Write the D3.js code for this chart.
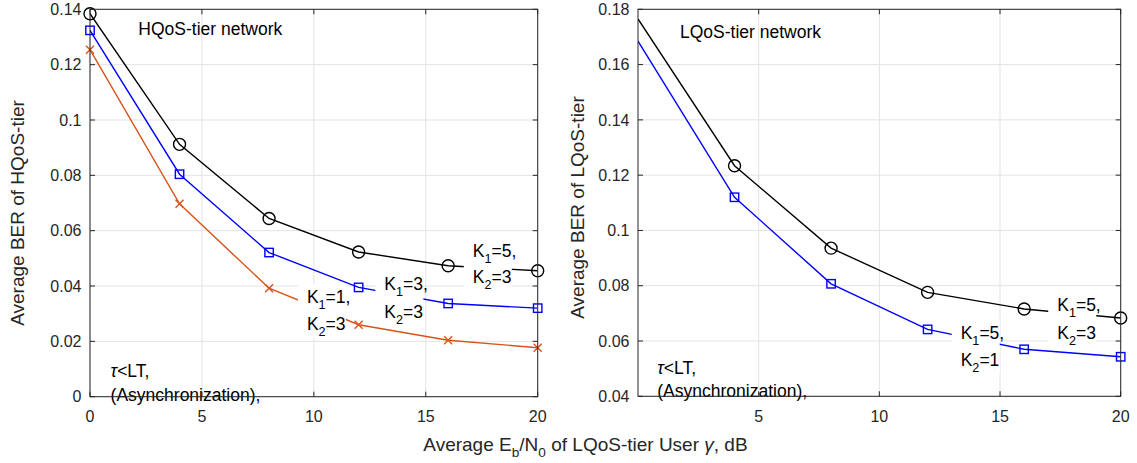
<!DOCTYPE html>
<html><head><meta charset="utf-8">
<script src="https://cdn.jsdelivr.net/npm/d3@7"></script>
<style>
body{margin:0;background:#fff}
svg{display:block}
text{font-family:"Liberation Sans",Arial,Helvetica,sans-serif}
</style>
</head><body>
<svg id="chart" width="1137" height="463"></svg>
<script>
// ---------- data ----------
const snrDb = [0, 4, 8, 12, 16, 20];
const hqosK15K23 = [0.1384, 0.0912, 0.0644, 0.0523, 0.0473, 0.0455];
const hqosK13K23 = [0.1324, 0.0804, 0.0521, 0.0395, 0.0337, 0.0320];
const hqosK11K23 = [0.1254, 0.0697, 0.0392, 0.0260, 0.0204, 0.0177];
const lqosK15K23 = [0.1765, 0.1234, 0.0936, 0.0776, 0.0716, 0.0683];
const lqosK15K21 = [0.1685, 0.1120, 0.0807, 0.0642, 0.0570, 0.0543];

const xTicksLeft = [0, 5, 10, 15, 20];
const xTicksRight = [5, 10, 15, 20];
const yTicksLeft = [0, 0.02, 0.04, 0.06, 0.08, 0.1, 0.12, 0.14];
const yTickLabelsLeft = ["0", "0.02", "0.04", "0.06", "0.08", "0.1", "0.12", "0.14"];
const yTicksRight = [0.04, 0.06, 0.08, 0.1, 0.12, 0.14, 0.16, 0.18];
const yTickLabelsRight = ["0.04", "0.06", "0.08", "0.1", "0.12", "0.14", "0.16", "0.18"];

const yLabelLeft = "Average BER of HQoS-tier";
const yLabelRight = "Average BER of LQoS-tier";
const titleLeft = "HQoS-tier network";
const titleRight = "LQoS-tier network";

// ---------- styles ----------
const AXIS = "#262626", GRID = "#e3e3e3";
const BLACK = "#000000", BLUE = "#0000ff", ORANGE = "#d95319";

const svg = d3.select("#chart");

function labelText(g, x, y, parts, size, fill) {
  const t = g.append("text").attr("x", x).attr("y", y)
    .attr("font-size", size).attr("fill", fill || "#000");
  let shifted = 0;
  parts.forEach(p => {
    const ts = t.append("tspan");
    if (p.sub) {
      ts.attr("dy", 6 - shifted).attr("font-size", size * 0.72);
      shifted = 6;
    } else if (shifted) {
      ts.attr("dy", -shifted);
      shifted = 0;
    }
    if (p.it) ts.attr("font-style", "italic");
    ts.text(p.t);
  });
  return t;
}

function drawPanel(cfg) {
  const x = d3.scaleLinear().domain(cfg.xDomain).range(cfg.xRange);
  const y = d3.scaleLinear().domain(cfg.yDomain).range(cfg.yRange);
  const g = svg.append("g");
  const [x0, x1] = cfg.xRange, [y0, y1] = cfg.yRange; // y0 bottom, y1 top

  // grid
  g.append("g").selectAll("line").data(cfg.xTicks).join("line")
    .attr("x1", d => x(d)).attr("x2", d => x(d)).attr("y1", y0).attr("y2", y1)
    .attr("stroke", GRID).attr("stroke-width", 1);
  g.append("g").selectAll("line").data(cfg.yTicks).join("line")
    .attr("y1", d => y(d)).attr("y2", d => y(d)).attr("x1", x0).attr("x2", x1)
    .attr("stroke", GRID).attr("stroke-width", 1);

  // clip
  const clipId = "clip" + cfg.id;
  svg.append("clipPath").attr("id", clipId).append("rect")
    .attr("x", x0).attr("y", y1).attr("width", x1 - x0).attr("height", y0 - y1);

  const line = d3.line().x(d => x(d.x)).y(d => y(d.y));
  cfg.series.forEach(s => {
    const pts = snrDb.map((v, i) => ({x: v, y: s.values[i]}));
    g.append("path").datum(pts).attr("d", line).attr("fill", "none")
      .attr("stroke", s.color).attr("stroke-width", 1.4)
      .attr("clip-path", `url(#${clipId})`);
    const mpts = pts.filter(d => d.x >= s.markerFrom);
    const mg = g.append("g").attr("stroke", s.color).attr("fill", "none").attr("stroke-width", 1.4);
    if (s.marker === "o") {
      mg.selectAll("circle").data(mpts).join("circle")
        .attr("cx", d => x(d.x)).attr("cy", d => y(d.y)).attr("r", 6);
    } else if (s.marker === "s") {
      mg.selectAll("rect").data(mpts).join("rect")
        .attr("x", d => x(d.x) - 4.2).attr("y", d => y(d.y) - 4.2)
        .attr("width", 8.4).attr("height", 8.4);
    } else {
      mg.selectAll("path").data(mpts).join("path")
        .attr("d", d => {
          const cx = x(d.x), cy = y(d.y), r = 4;
          return `M${cx - r},${cy - r}L${cx + r},${cy + r}M${cx - r},${cy + r}L${cx + r},${cy - r}`;
        });
    }
  });

  // annotations (K labels with white background)
  cfg.kLabels.forEach(k => {
    const bx = x(k.at[0]), by = y(k.at[1]);
    g.append("rect").attr("x", bx - 9).attr("y", by - 13)
      .attr("width", 48).attr("height", k.gap + 27).attr("fill", "#fff");
    labelText(g, bx, by + 6, [{t: "K"}, {t: "1", sub: true}, {t: "=" + k.k1 + ","}], 17.5);
    labelText(g, bx, by + k.gap + 6, [{t: "K"}, {t: "2", sub: true}, {t: "=" + k.k2}], 17.5);
  });

  // title and note
  labelText(g, x(cfg.titleAt[0]), y(cfg.titleAt[1]), [{t: cfg.title}], 17.5);
  labelText(g, x(cfg.noteAt[0]), y(cfg.noteAt[1]), [{t: "τ", it: true}, {t: "<LT,"}], 17.5);
  labelText(g, x(cfg.noteAt[0]), y(cfg.noteAt[1]) + cfg.noteGap, [{t: "(Asynchronization),"}], 17.5);

  // box
  g.append("rect").attr("x", x0).attr("y", y1).attr("width", x1 - x0).attr("height", y0 - y1)
    .attr("fill", "none").attr("stroke", AXIS).attr("stroke-width", 1);

  // ticks (inside, all four sides)
  const tl = 5;
  const tk = g.append("g").attr("stroke", AXIS).attr("stroke-width", 1);
  cfg.xTicks.forEach(d => {
    tk.append("line").attr("x1", x(d)).attr("x2", x(d)).attr("y1", y0).attr("y2", y0 - tl);
    tk.append("line").attr("x1", x(d)).attr("x2", x(d)).attr("y1", y1).attr("y2", y1 + tl);
  });
  cfg.yTicks.forEach(d => {
    tk.append("line").attr("y1", y(d)).attr("y2", y(d)).attr("x1", x0).attr("x2", x0 + tl);
    tk.append("line").attr("y1", y(d)).attr("y2", y(d)).attr("x1", x1).attr("x2", x1 - tl);
  });

  // tick labels
  g.append("g").selectAll("text").data(cfg.xTicks).join("text")
    .attr("x", d => x(d)).attr("y", y0 + 25.5).attr("text-anchor", "middle")
    .attr("font-size", 16).attr("fill", AXIS).text(d => d);
  g.append("g").selectAll("text").data(cfg.yTicks).join("text")
    .attr("x", x0 - 8.5).attr("y", d => y(d)).attr("dy", "0.36em").attr("text-anchor", "end")
    .attr("font-size", 16).attr("fill", AXIS).text((d, i) => cfg.yTickLabels[i]);

  // y label
  g.append("text").attr("transform", `translate(${cfg.yLabelPos[0]},${cfg.yLabelPos[1]}) rotate(-90)`)
    .attr("text-anchor", "middle").attr("font-size", 19).attr("fill", AXIS).text(cfg.yLabel);
}

drawPanel({
  id: "L", xDomain: [0, 20], yDomain: [0, 0.14],
  xRange: [90, 537.7], yRange: [396.7, 9.3],
  xTicks: xTicksLeft, yTicks: yTicksLeft, yTickLabels: yTickLabelsLeft,
  yLabel: yLabelLeft, yLabelPos: [24, 213],
  series: [
    {values: hqosK15K23, color: BLACK, marker: "o", markerFrom: 0},
    {values: hqosK13K23, color: BLUE, marker: "s", markerFrom: 0},
    {values: hqosK11K23, color: ORANGE, marker: "x", markerFrom: 0}
  ],
  kLabels: [
    {k1: 5, k2: 3, at: [17.1, 0.0528], gap: 26.7},
    {k1: 3, k2: 3, at: [13.15, 0.0407], gap: 27.7},
    {k1: 1, k2: 3, at: [9.69, 0.0361], gap: 27.3}
  ],
  title: titleLeft, titleAt: [2.16, 0.1306],
  noteAt: [0.92, 0.0071], noteGap: 24
});

drawPanel({
  id: "R", xDomain: [0, 20], yDomain: [0.04, 0.18],
  xRange: [638, 1120.7], yRange: [396.3, 9.3],
  xTicks: xTicksRight, yTicks: yTicksRight, yTickLabels: yTickLabelsRight,
  yLabel: yLabelRight, yLabelPos: [583.5, 207.5],
  series: [
    {values: lqosK15K23, color: BLACK, marker: "o", markerFrom: 4},
    {values: lqosK15K21, color: BLUE, marker: "s", markerFrom: 4}
  ],
  kLabels: [
    {k1: 5, k2: 3, at: [17.37, 0.0732], gap: 28.3},
    {k1: 5, k2: 1, at: [13.37, 0.0630], gap: 27.4}
  ],
  title: titleRight, titleAt: [1.74, 0.1695],
  noteAt: [0.80, 0.0479], noteGap: 22.5
});

// shared x label
labelText(svg, 423.3, 451, [
  {t: "Average E"}, {t: "b", sub: true}, {t: "/N"}, {t: "0", sub: true},
  {t: " of LQoS-tier User "}, {t: "γ", it: true}, {t: ", dB"}
], 19, AXIS);
</script>
</body></html>
